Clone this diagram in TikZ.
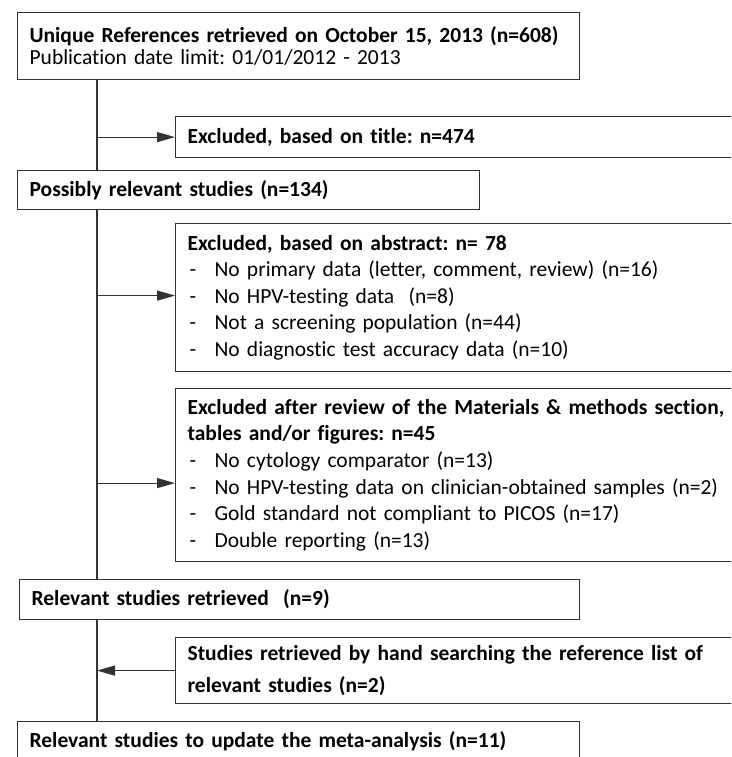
\documentclass[tikz,border=0pt]{standalone}
\usepackage{fontspec}
\setmainfont{Carlito}[Ligatures=NoCommon]
\usetikzlibrary{arrows.meta}
\tikzstyle{box} = [rectangle, draw=black!80, line width=1.2pt, anchor=north west, align=left, inner xsep=12pt, inner ysep=0pt, font=\fontsize{21.5}{21.7}\selectfont\frenchspacing]
\tikzstyle{listbox} = [box, font=\fontsize{21.5}{26.6}\selectfont\frenchspacing]
\tikzstyle{exarrow} = [line width=1.2pt, draw=black!80, -{Triangle[length=18pt,width=10pt]}]
\newcommand{\dashitem}[1]{\makebox[27pt][l]{\hspace{2pt}-}#1}

\begin{document}
\begin{tikzpicture}[x=1pt, y=-1pt]
    \clip (0,0) rectangle (731,757);
    \fill[white] (0,0) rectangle (731,757);
    % left column
    \node[box, minimum width=562, minimum height=67, text width=538] (uniq) at (17,12)
        {\textbf{Unique References retrieved on October 15, 2013 (n=608)}\\Publication date limit: 01/01/2012 - 2013};
    \node[box, minimum width=462, minimum height=39, text width=438] (possible) at (17,170)
        {\textbf{Possibly relevant studies (n=134)}};
    \node[box, minimum width=560, minimum height=40, text width=536] (retrieved) at (19,579)
        {\textbf{Relevant studies retrieved\ \ (n=9)}};
    \node[box, minimum width=562, minimum height=40, text width=538] (final) at (17,721)
        {\textbf{Relevant studies to update the meta-analysis (n=11)}};
    % right column
    \node[box, minimum width=575, minimum height=41, text width=600] (extitle) at (175,116)
        {\textbf{Excluded, based on title: n=474}};
    \node[listbox, minimum width=575, minimum height=148, text width=600] (exabs) at (175,223)
        {\textbf{Excluded, based on abstract: n= 78}\\
         \dashitem{No primary data (letter, comment, review) (n=16)}\\
         \dashitem{No HPV-testing data\ \ (n=8)}\\
         \dashitem{Not a screening population (n=44)}\\
         \dashitem{No diagnostic test accuracy data (n=10)}};
    \node[listbox, minimum width=575, minimum height=173, text width=600] (exmat) at (175,388)
        {\textbf{Excluded after review of the Materials \& methods section,}\\
         \textbf{tables and/or figures: n=45}\\
         \dashitem{No cytology comparator (n=13)}\\
         \dashitem{No HPV-testing data on clinician-obtained samples (n=2)}\\
         \dashitem{Gold standard not compliant to PICOS (n=17)}\\
         \dashitem{Double reporting (n=13)}};
    \node[box, minimum width=575, minimum height=66, text width=600, font=\fontsize{21.5}{32}\selectfont\frenchspacing] (hand) at (175,637)
        {\textbf{Studies retrieved by hand searching the reference list of}\\
         \textbf{relevant studies (n=2)}};
    % spine and arrows
    \coordinate (spine) at (97,0);
    \draw[line width=1.2pt, black!80] (uniq.south -| spine) -- (possible.north -| spine);
    \draw[line width=1.2pt, black!80] (possible.south -| spine) -- (retrieved.north -| spine);
    \draw[line width=1.2pt, black!80] (retrieved.south -| spine) -- (final.north -| spine);
    \draw[exarrow] (extitle.west -| spine) -- (extitle.west);
    \draw[exarrow] ([yshift=2pt]exabs.west -| spine) -- ([yshift=2pt]exabs.west);
    \draw[exarrow] ([yshift=-8pt]exmat.west -| spine) -- ([yshift=-8pt]exmat.west);
    \draw[exarrow] (hand.west) -- (hand.west -| spine);
\end{tikzpicture}
\end{document}
